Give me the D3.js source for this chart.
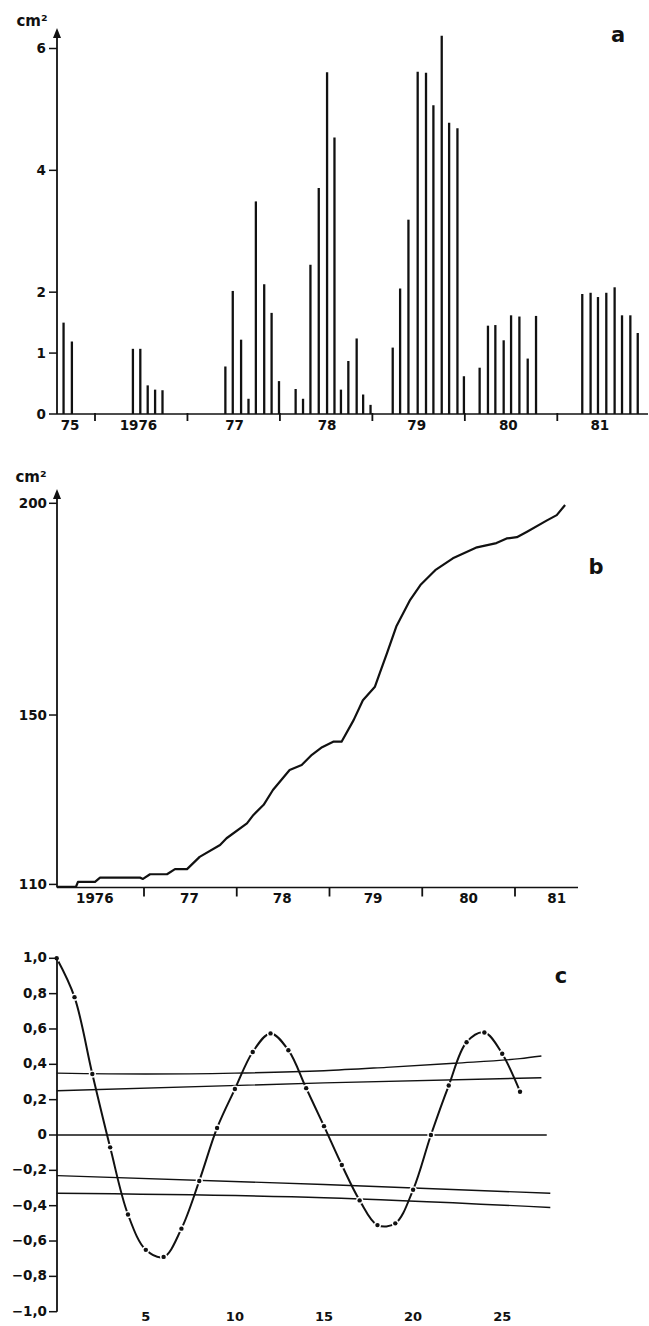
<!DOCTYPE html>
<html><head><meta charset="utf-8">
<script src="https://cdn.jsdelivr.net/npm/d3@7"></script>
<style>
html,body{margin:0;padding:0;background:#fff;}
svg{display:block;}
text{font-family:"DejaVu Sans",sans-serif;font-weight:bold;fill:#111;}
</style>
</head><body>
<svg id="chart" width="649" height="1326"></svg>
<script>
// ---------- Panel a : monthly increments (cm²) ----------
const barYears = [1975.66,1975.75,
  1976.41,1976.49,1976.57,1976.65,1976.73,
  1977.41,1977.49,1977.58,1977.66,1977.74,1977.83,1977.91,1977.99,
  1978.17,1978.25,1978.33,1978.42,1978.51,1978.59,1978.66,1978.74,1978.83,1978.90,1978.98,
  1979.22,1979.30,1979.39,1979.49,1979.58,1979.66,1979.75,1979.83,1979.92,1979.99,
  1980.16,1980.25,1980.33,1980.42,1980.50,1980.59,1980.68,1980.77,
  1981.27,1981.36,1981.44,1981.53,1981.62,1981.70,1981.79,1981.87];
const barValues = [1.50,1.19,
  1.07,1.07,0.47,0.40,0.39,
  0.78,2.02,1.22,0.25,3.49,2.13,1.66,0.54,
  0.41,0.25,2.45,3.71,5.61,4.54,0.40,0.87,1.24,0.32,0.15,
  1.09,2.06,3.19,5.62,5.60,5.07,6.21,4.78,4.69,0.62,
  0.76,1.45,1.46,1.21,1.62,1.60,0.91,1.61,
  1.97,1.99,1.92,1.99,2.08,1.62,1.62,1.33];
const aYearTicks = [1976,1977,1978,1979,1980,1981];
const aYearLabels = ["75","1976","77","78","79","80","81"];
const aLabelYears = [1975.73,1976.47,1977.51,1978.51,1979.48,1980.47,1981.46];
const aValueTicks = [0,1,2,4,6];

// ---------- Panel b : cumulative area (cm²) ----------
const bYears = [1976.062,1976.267,1976.288,1976.472,1976.526,1976.957,1976.989,1977.065,1977.248,1977.334,
  1977.464,1977.60,1977.82,1977.89,1978.11,1978.18,1978.29,1978.39,1978.57,1978.70,
  1978.81,1978.92,1979.04,1979.13,1979.26,1979.36,1979.49,1979.54,1979.62,1979.72,
  1979.87,1979.98,1980.14,1980.33,1980.59,1980.80,1980.91,1981.02,1981.13,1981.34,
  1981.45,1981.54];
const bValues = [109.45,109.45,110.6,110.6,111.6,111.6,111.3,112.4,112.4,113.6,
  113.6,116.5,119.3,120.9,124.4,126.4,128.8,132.3,137.0,138.2,
  140.6,142.4,143.7,143.7,148.8,153.5,156.7,159.8,164.6,170.9,
  177.2,180.7,184.2,187.0,189.6,190.6,191.7,192.0,193.3,195.9,
  197.2,199.6];
const bYearTicks = [1977,1978,1979,1980,1981];
const bYearLabels = ["1976","77","78","79","80","81"];
const bLabelYears = [1976.47,1977.49,1978.49,1979.47,1980.50,1981.45];
const bValueTicks = [110,150,200];

// ---------- Panel c : autocorrelation ----------
const lags = [0,1,2,3,4,5,6,7,8,9,10,11,12,13,14,15,16,17,18,19,20,21,22,23,24,25,26];
const acf = [1.0,0.78,0.345,-0.07,-0.45,-0.65,-0.69,-0.53,-0.26,0.04,0.26,0.47,0.575,0.48,0.265,0.05,
  -0.17,-0.37,-0.51,-0.50,-0.31,0.0,0.28,0.525,0.58,0.46,0.245];
const upperOuterLags = [0,5,10,15,18.5,22.3,26,27.2];
const upperOuterVals = [0.35,0.345,0.35,0.364,0.383,0.406,0.432,0.447];
const upperInnerLags = [0,15,27.2];
const upperInnerVals = [0.25,0.295,0.324];
const zeroLags = [0,27.5];
const zeroVals = [0,0];
const lowerInnerLags = [0,15,27.7];
const lowerInnerVals = [-0.23,-0.28,-0.33];
const lowerOuterLags = [0,15,27.7];
const lowerOuterVals = [-0.33,-0.355,-0.41];
const cValueTicks = [1,0.8,0.6,0.4,0.2,0,-0.2,-0.4,-0.6,-0.8,-1];
const cLagTicks = [5,10,15,20,25];

const svg = d3.select("#chart");
const ink = "#111";
const FS = 13.5;

function arrow(g, x, yTip){
  g.append("path").attr("d", `M${x},${yTip} L${x-4},${yTip+10} L${x+4},${yTip+10} Z`).attr("fill", ink);
}

// ===== Panel a =====
{
  const g = svg.append("g");
  const x = d3.scaleLinear().domain([1976,1981]).range([95,557.3]);
  const y = d3.scaleLinear().domain([0,6]).range([414,48.5]);
  const x0 = 57;
  g.selectAll("line.bar").data(barYears).join("line")
    .attr("x1", d=>x(d)).attr("x2", d=>x(d))
    .attr("y1", y(0)).attr("y2", (d,i)=>y(barValues[i]))
    .attr("stroke", ink).attr("stroke-width", 2.3);
  g.append("line").attr("x1", x0).attr("x2", 648).attr("y1", y(0)).attr("y2", y(0))
    .attr("stroke", ink).attr("stroke-width", 1.6);
  g.selectAll("line.xt").data(aYearTicks).join("line")
    .attr("x1", d=>x(d)).attr("x2", d=>x(d)).attr("y1", y(0)-1).attr("y2", y(0)+7)
    .attr("stroke", ink).attr("stroke-width", 1.8);
  g.selectAll("text.xl").data(aYearLabels).join("text")
    .attr("x", (d,i)=>x(aLabelYears[i])).attr("y", 430).attr("text-anchor","middle")
    .attr("font-size", FS).text(d=>d);
  g.append("line").attr("x1", x0).attr("x2", x0).attr("y1", y(0)).attr("y2", 36)
    .attr("stroke", ink).attr("stroke-width", 1.8);
  arrow(g, x0, 28);
  g.selectAll("line.yt").data(aValueTicks).join("line")
    .attr("x1", x0-8).attr("x2", x0).attr("y1", d=>y(d)).attr("y2", d=>y(d))
    .attr("stroke", ink).attr("stroke-width", 1.5);
  g.selectAll("text.yl").data(aValueTicks).join("text")
    .attr("x", x0-11).attr("y", d=>y(d)).attr("dy","0.35em").attr("text-anchor","end")
    .attr("font-size", FS).text(d=>d);
  g.append("text").attr("x", 32).attr("y", 26).attr("text-anchor","middle").attr("font-size", 15).text("cm²");
  g.append("text").attr("x", 618).attr("y", 42).attr("text-anchor","middle").attr("font-size", 21).text("a");
}

// ===== Panel b =====
{
  const g = svg.append("g");
  const x = d3.scaleLinear().domain([1977,1981]).range([144,515]);
  const y = d3.scaleLinear().domain([110,200]).range([884.4,503.3]);
  const x0 = 57, yAxis = 887.5;
  const line = d3.line().x((d,i)=>x(bYears[i])).y(d=>y(d)).curve(d3.curveLinear);
  g.append("path").attr("d", line(bValues)).attr("fill","none").attr("stroke", ink)
    .attr("stroke-width", 2.2).attr("stroke-linejoin","round");
  g.append("line").attr("x1", x0).attr("x2", 578).attr("y1", yAxis).attr("y2", yAxis)
    .attr("stroke", ink).attr("stroke-width", 1.6);
  g.selectAll("line.xt").data(bYearTicks).join("line")
    .attr("x1", d=>x(d)).attr("x2", d=>x(d)).attr("y1", yAxis).attr("y2", yAxis+9)
    .attr("stroke", ink).attr("stroke-width", 1.8);
  g.selectAll("text.xl").data(bYearLabels).join("text")
    .attr("x", (d,i)=>x(bLabelYears[i])).attr("y", 903).attr("text-anchor","middle")
    .attr("font-size", FS).text(d=>d);
  g.append("line").attr("x1", x0).attr("x2", x0).attr("y1", yAxis).attr("y2", 497)
    .attr("stroke", ink).attr("stroke-width", 1.8);
  arrow(g, x0, 489);
  g.selectAll("line.yt").data(bValueTicks).join("line")
    .attr("x1", x0-8).attr("x2", x0).attr("y1", d=>y(d)).attr("y2", d=>y(d))
    .attr("stroke", ink).attr("stroke-width", 1.5);
  g.selectAll("text.yl").data(bValueTicks).join("text")
    .attr("x", x0-10).attr("y", d=>y(d)).attr("dy","0.35em").attr("text-anchor","end")
    .attr("font-size", FS).text(d=>d);
  g.append("text").attr("x", 31).attr("y", 482).attr("text-anchor","middle").attr("font-size", 15).text("cm²");
  g.append("text").attr("x", 596).attr("y", 574).attr("text-anchor","middle").attr("font-size", 21).text("b");
}

// ===== Panel c =====
{
  const g = svg.append("g");
  const x = d3.scaleLinear().domain([0,25]).range([56.7,502.2]);
  const y = d3.scaleLinear().domain([-1,1]).range([1311.7,958.3]);
  const x0 = 57;
  const fmt = v => v===0 ? "0" : (v<0?"\u2212":"") + Math.abs(v).toFixed(1).replace(".",",");
  const refLine = (ls, vs) => d3.line().x((d,i)=>x(ls[i])).y(d=>y(d)).curve(d3.curveMonotoneX)(vs);
  [[upperOuterLags,upperOuterVals],[upperInnerLags,upperInnerVals],[zeroLags,zeroVals],
   [lowerInnerLags,lowerInnerVals],[lowerOuterLags,lowerOuterVals]].forEach(([ls,vs])=>{
    g.append("path").attr("d", refLine(ls,vs)).attr("fill","none").attr("stroke", ink).attr("stroke-width",1.4);
  });
  const acfLine = d3.line().x((d,i)=>x(lags[i])).y(d=>y(d)).curve(d3.curveCatmullRom.alpha(0.5));
  g.append("path").attr("d", acfLine(acf)).attr("fill","none").attr("stroke", ink).attr("stroke-width",2);
  g.selectAll("circle.gap").data(acf).join("circle")
    .attr("cx",(d,i)=>x(lags[i])).attr("cy", d=>y(d)).attr("r", 3.6).attr("fill","#fff");
  g.selectAll("circle.dot").data(acf).join("circle")
    .attr("cx",(d,i)=>x(lags[i])).attr("cy", d=>y(d)).attr("r", 2.2).attr("fill", ink);
  g.append("line").attr("x1", x0).attr("x2", x0).attr("y1", y(1)).attr("y2", y(-1))
    .attr("stroke", ink).attr("stroke-width", 1.8);
  g.selectAll("line.yt").data(cValueTicks).join("line")
    .attr("x1", x0-8).attr("x2", x0).attr("y1", d=>y(d)).attr("y2", d=>y(d))
    .attr("stroke", ink).attr("stroke-width", 1.5);
  g.selectAll("text.yl").data(cValueTicks).join("text")
    .attr("x", x0-10).attr("y", d=>y(d)).attr("dy","0.3em").attr("text-anchor","end")
    .attr("font-size", 13.5).text(fmt);
  g.selectAll("text.xl").data(cLagTicks).join("text")
    .attr("x", d=>x(d)).attr("y", 1321).attr("text-anchor","middle")
    .attr("font-size", 13).text(d=>d);
  g.append("text").attr("x", 561).attr("y", 983).attr("text-anchor","middle").attr("font-size", 21).text("c");
}
</script>
</body></html>
